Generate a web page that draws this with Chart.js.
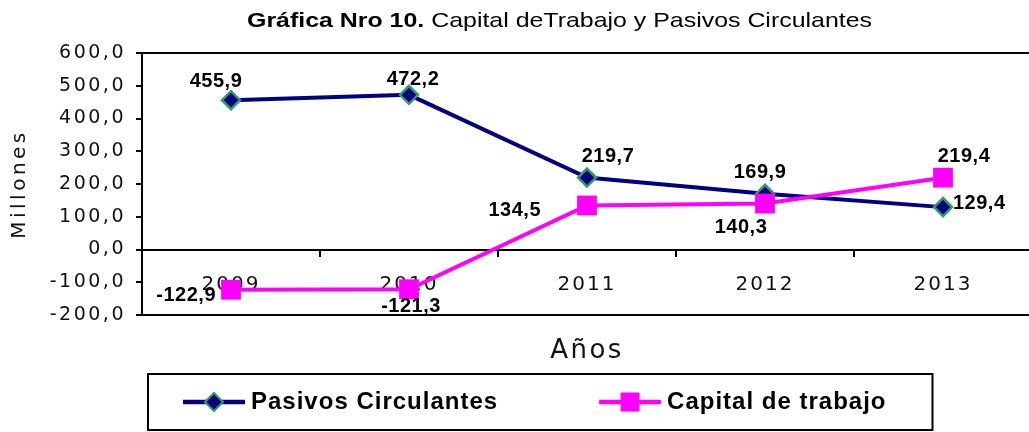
<!DOCTYPE html>
<html>
<head>
<meta charset="utf-8">
<script src="https://cdn.jsdelivr.net/npm/chart.js@4.4.1/dist/chart.umd.min.js"></script>
<style>
html,body{margin:0;padding:0;overflow:hidden;background:#fff;width:1029px;height:432px}
canvas{display:block}
</style>
</head>
<body>
<canvas id="c" width="1032" height="432"></canvas>
<script>
// ---- data ----
const categories = ['2009', '2010', '2011', '2012', '2013'];
const pasivosCirculantes = [455.9, 472.2, 219.7, 169.9, 129.4];
const capitalDeTrabajo = [-122.9, -121.3, 134.5, 140.3, 219.4];
const seriesNames = ['Pasivos Circulantes', 'Capital de trabajo'];
const yMin = -200, yMax = 600, yStep = 100;
const titleBold = 'Gráfica Nro 10.';
const titleRest = ' Capital deTrabajo y Pasivos Circulantes';
const yTitle = 'Millones';
const xTitle = 'Años';

// ---- style ----
const NAVY = '#000080', MAGENTA = '#FF00FF', GREEN = '#339966';
const AXIS_FONT = '"DejaVu Sans", Verdana, sans-serif';
const BOLD_FONT = '"Liberation Sans", Arial, sans-serif';
const fmt = v => Number(v).toFixed(1).replace('.', ',');

// label offsets (dx, dy, align) per series / point
const labelStyle = [
  [[-15, -19, 'center'], [4, -15, 'center'], [21, -21, 'center'], [-5, -21, 'center'], [10, -4, 'left']],
  [[-15, 6, 'right'], [2, 17, 'center'], [-46, 5, 'right'], [-24, 24, 'center'], [21, -21, 'center']]
];

const BOXW = 147;
function makeSwatch(kind) {
  const W = BOXW + 12, H = 30;
  const c = document.createElement('canvas');
  c.width = W; c.height = H;
  const g = c.getContext('2d');
  const cy = H / 2, cx = W - 31;
  g.lineWidth = 4.5;
  g.strokeStyle = kind === 0 ? NAVY : MAGENTA;
  g.beginPath(); g.moveTo(W - 62, cy); g.lineTo(W, cy); g.stroke();
  if (kind === 0) {
    const r = 9;
    g.beginPath();
    g.moveTo(cx, cy - r); g.lineTo(cx + r, cy); g.lineTo(cx, cy + r); g.lineTo(cx - r, cy);
    g.closePath();
    g.fillStyle = NAVY; g.fill();
    g.lineWidth = 2; g.strokeStyle = GREEN; g.stroke();
  } else {
    g.fillStyle = MAGENTA;
    g.fillRect(cx - 9.5, cy - 9.5, 19, 19);
  }
  return c;
}
const swatches = [makeSwatch(0), makeSwatch(1)];

function wrapSpacing(obj, method, spacing) {
  const orig = obj[method];
  obj[method] = function (...args) {
    const ctx = this.ctx;
    const prev = ctx.letterSpacing;
    ctx.letterSpacing = spacing;
    try { return orig.apply(this, args); } finally { ctx.letterSpacing = prev; }
  };
}

const helperPlugin = {
  id: 'helper',
  beforeLayout(chart) {
    const s = chart.scales;
    if (s.y && !s.y.$sp) {
      s.y.$sp = true;
      wrapSpacing(s.y, 'drawLabels', '2.5px');
      wrapSpacing(s.y, 'drawTitle', '3.5px');
    }
    if (s.x && !s.x.$sp) {
      s.x.$sp = true;
      wrapSpacing(s.x, 'drawLabels', '2px');
    }
    if (s.x2 && !s.x2.$sp) {
      s.x2.$sp = true;
      wrapSpacing(s.x2, 'drawTitle', '2.5px');
    }
    if (chart.legend && !chart.legend.$sp) {
      chart.legend.$sp = true;
      wrapSpacing(chart.legend, 'fit', '1px');
      wrapSpacing(chart.legend, 'draw', '1px');
    }
  },
  afterLayout(chart) {
    if (chart.legend) chart.legend.left = 82;
  },
  afterDatasetsDraw(chart) {
    const ctx = chart.ctx;
    ctx.save();
    ctx.font = 'bold 20px ' + BOLD_FONT;
    ctx.letterSpacing = '0.5px';
    ctx.fillStyle = '#000';
    ctx.textBaseline = 'middle';
    chart.data.datasets.forEach((ds, di) => {
      const meta = chart.getDatasetMeta(di);
      meta.data.forEach((el, i) => {
        const [dx, dy, align] = labelStyle[di][i];
        ctx.textAlign = align;
        ctx.fillText(fmt(ds.data[i]), el.x + dx, el.y + dy);
      });
    });
    ctx.restore();
  },
  afterDraw(chart) {
    const ctx = chart.ctx;
    // title
    ctx.save();
    const fb = 'bold 21px ' + BOLD_FONT, fr = '21px ' + BOLD_FONT;
    ctx.font = fb; const wb = ctx.measureText(titleBold).width;
    ctx.font = fr; const wr = ctx.measureText(titleRest).width;
    const sx = 625 / (wb + wr);
    ctx.translate(247, 27);
    ctx.scale(sx, 1);
    ctx.textAlign = 'left'; ctx.textBaseline = 'alphabetic'; ctx.fillStyle = '#000';
    ctx.font = fb; ctx.fillText(titleBold, 0, 0);
    ctx.font = fr; ctx.fillText(titleRest, wb, 0);
    ctx.restore();
    // legend frame
    const lg = chart.legend;
    if (lg && lg.legendHitBoxes && lg.legendHitBoxes.length === 2) {
      const hb = lg.legendHitBoxes;
      const x1 = hb[0].left + BOXW - 56 - 35;
      const x2 = hb[1].left + hb[1].width + 46;
      ctx.save();
      ctx.strokeStyle = '#000';
      ctx.lineWidth = 2;
      ctx.strokeRect(x1, lg.top - 6, x2 - x1, lg.bottom - lg.top + 12);
      ctx.restore();
    }
  }
};

new Chart(document.getElementById('c'), {
  type: 'line',
  data: {
    labels: categories,
    datasets: [
      {
        label: seriesNames[0], data: pasivosCirculantes, order: 2,
        borderColor: NAVY, backgroundColor: NAVY, borderWidth: 4, tension: 0,
        pointStyle: 'rectRot', pointRadius: 9, pointBackgroundColor: NAVY,
        pointBorderColor: GREEN, pointBorderWidth: 2.5
      },
      {
        label: seriesNames[1], data: capitalDeTrabajo, order: 1,
        borderColor: MAGENTA, backgroundColor: MAGENTA, borderWidth: 4, tension: 0,
        pointStyle: 'rect', pointRadius: 14, pointBackgroundColor: MAGENTA,
        pointBorderColor: MAGENTA, pointBorderWidth: 0
      }
    ]
  },
  options: {
    responsive: false,
    animation: false,
    events: [],
    layout: { autoPadding: false, padding: { top: 53, left: 0, right: 0, bottom: 8 } },
    plugins: {
      title: { display: false },
      tooltip: { enabled: false },
      legend: {
        display: true, position: 'bottom', align: 'start',
        labels: {
          usePointStyle: true, pointStyleWidth: BOXW, padding: 10,
          color: '#000', font: { family: BOLD_FONT, size: 24, weight: 'bold' },
          generateLabels: () => [0, 1].map(i => ({
            text: seriesNames[i], pointStyle: swatches[i], fillStyle: 'rgba(0,0,0,0)',
            strokeStyle: 'rgba(0,0,0,0)', lineWidth: 0, hidden: false, datasetIndex: i, fontColor: '#000'
          }))
        }
      }
    },
    scales: {
      x: {
        type: 'category', position: { y: 0 }, offset: true,
        grid: { offset: true, drawOnChartArea: false, drawTicks: true, tickLength: 6, color: '#000', lineWidth: 2 },
        border: { display: true, color: '#000', width: 2 },
        ticks: { color: '#111', font: { family: AXIS_FONT, size: 20 }, padding: 17, maxRotation: 0, autoSkip: false },
        afterFit(s) { s.paddingLeft = 0; s.paddingRight = 0; }
      },
      x2: {
        type: 'category', position: 'bottom', offset: true,
        grid: { display: false, drawTicks: false },
        border: { display: false },
        ticks: { display: false },
        title: { display: true, text: xTitle, color: '#111', font: { family: AXIS_FONT, size: 26 }, padding: { top: 0, bottom: 13 } },
        afterFit(s) { s.height = 65; s.paddingLeft = 0; s.paddingRight = 0; }
      },
      y: {
        min: yMin, max: yMax,
        ticks: { stepSize: yStep, callback: v => fmt(v), color: '#111', font: { family: AXIS_FONT, size: 19 }, padding: 10 },
        grid: {
          color: c => (c.tick && [yMin, 0, yMax].includes(c.tick.value)) ? '#000' : 'rgba(0,0,0,0)',
          lineWidth: 2, tickLength: 6, tickColor: '#000', drawTicks: true
        },
        border: { display: true, color: '#000', width: 2 },
        title: { display: true, text: yTitle, color: '#111', font: { family: AXIS_FONT, size: 20 }, padding: { top: 8, bottom: 0 } },
        afterFit(s) { s.width = 142; }
      }
    }
  },
  plugins: [helperPlugin]
});
</script>
</body>
</html>
